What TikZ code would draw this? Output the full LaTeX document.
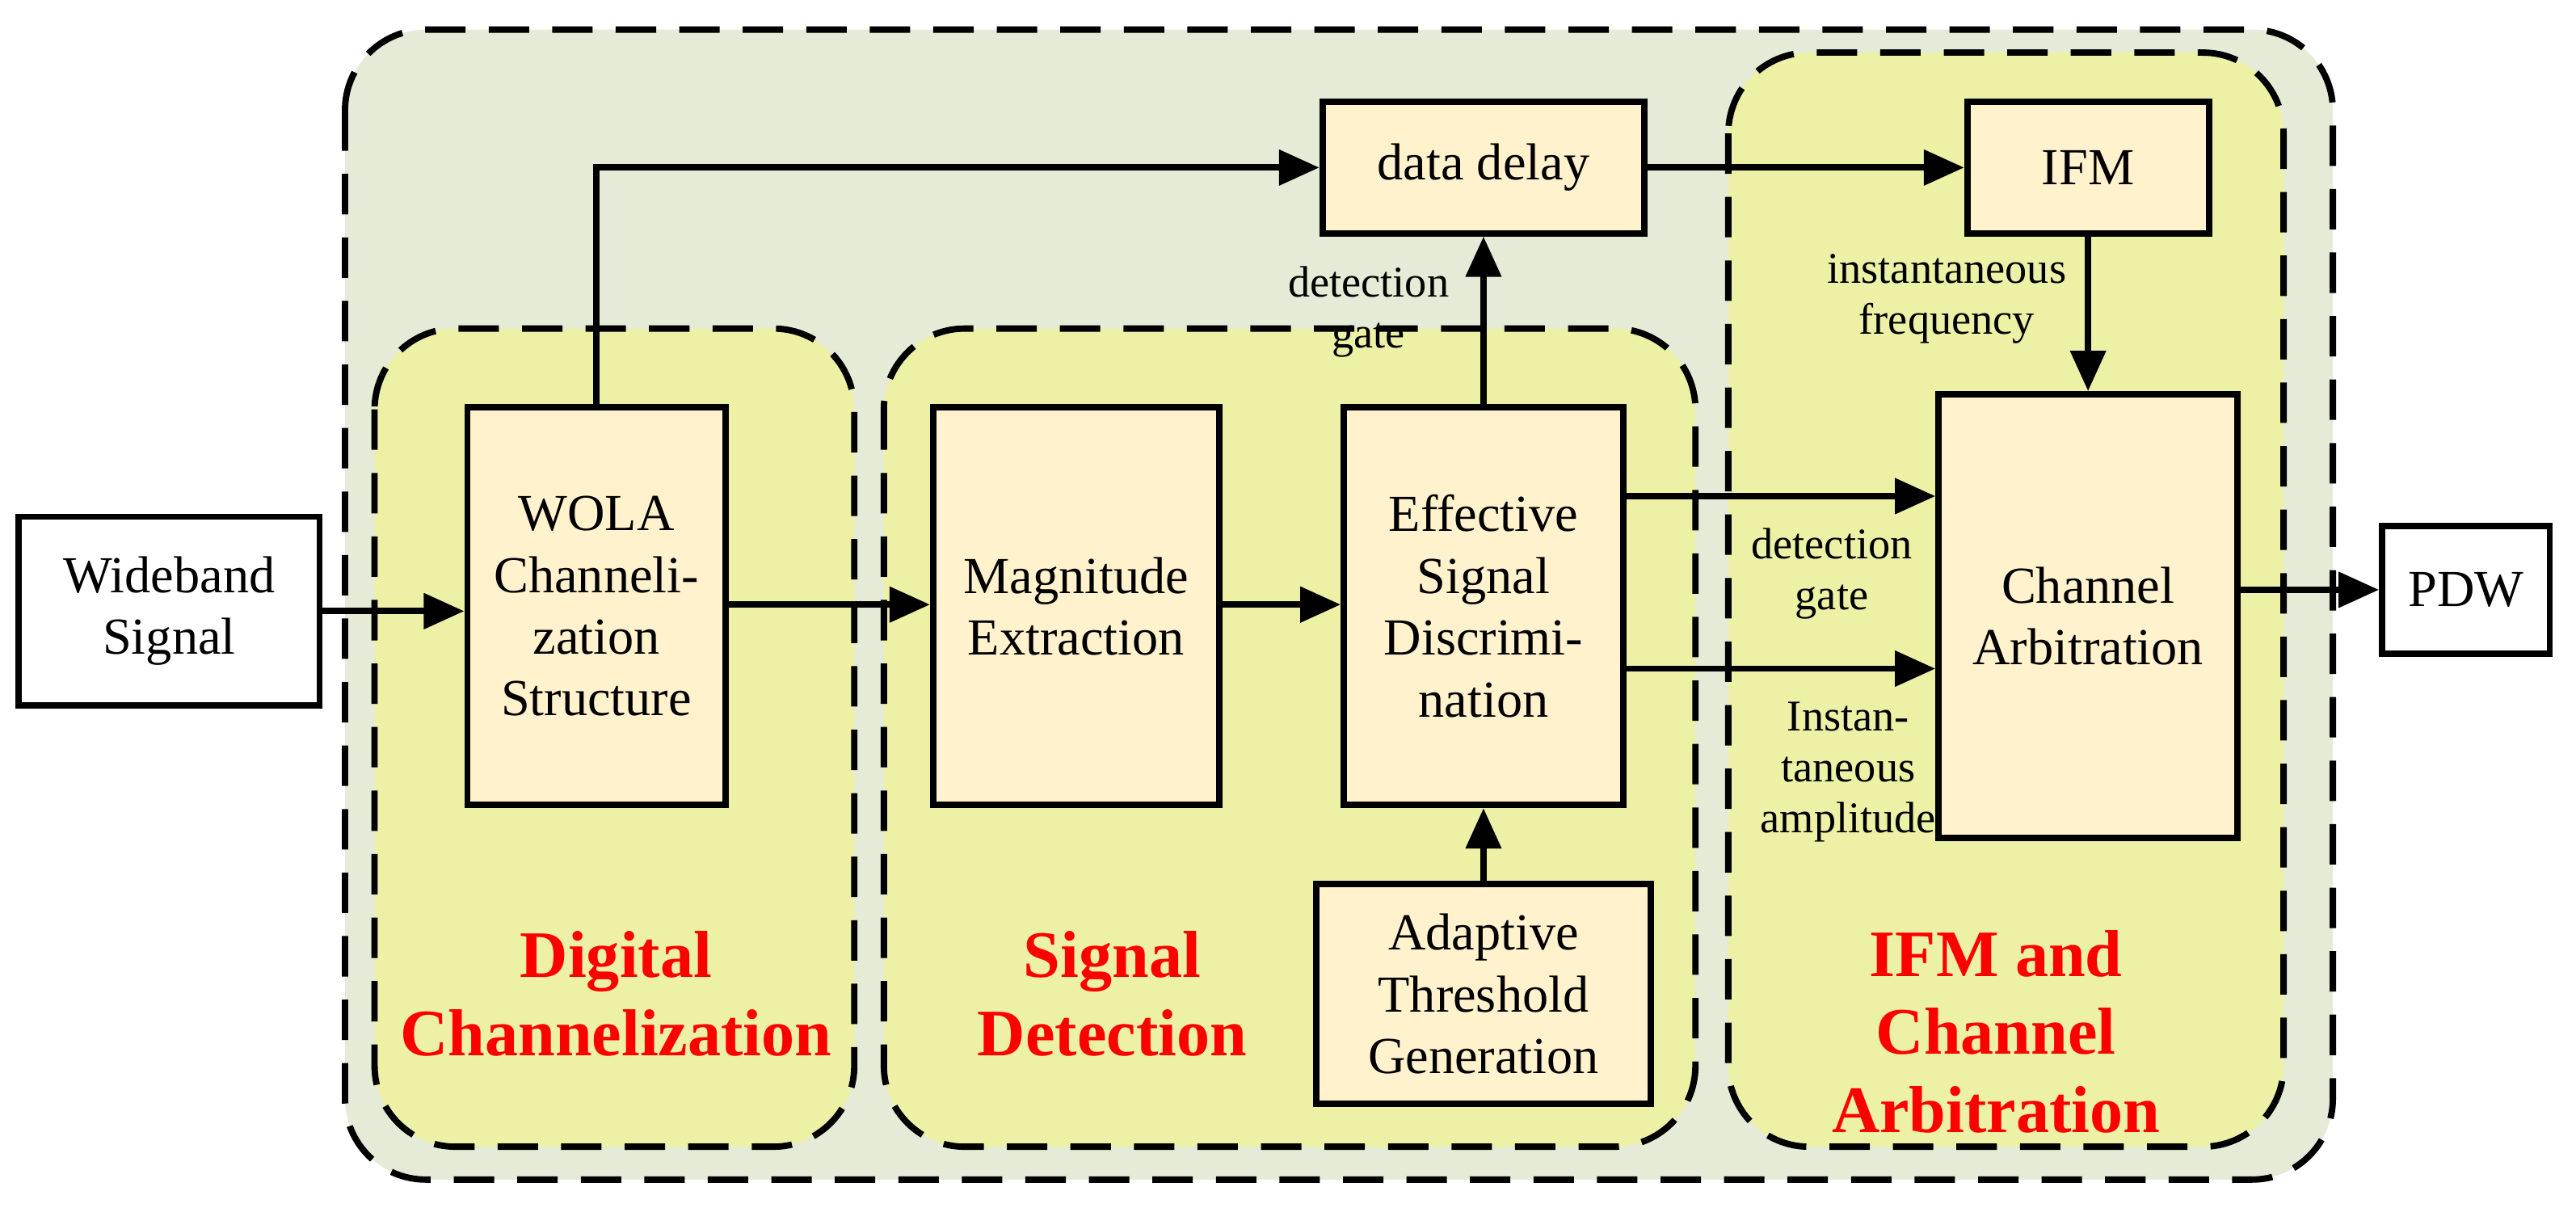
\documentclass[tikz,border=0pt]{standalone}
\usepackage{fontspec}
\setmainfont{Liberation Serif}
\usetikzlibrary{positioning,arrows.meta}
\definecolor{outerfill}{HTML}{E5EBD6}
\definecolor{groupfill}{HTML}{EDF1A6}
\definecolor{blockfill}{HTML}{FFF2CC}
\tikzset{
  blk/.style={draw,line width=1.1pt,fill=blockfill,align=center,inner sep=1pt},
  grp/.style={draw,dash pattern=on 7pt off 4pt,line width=1.1pt,rounded corners=14pt},
  arr/.style={-{Triangle[length=7pt,width=6pt]},line width=1.1pt},
  lbl/.style={align=center,font=\fontsize{7.6}{8.8}\selectfont,inner sep=1pt},
  title/.style={align=center,text=red,font=\fontsize{11.5}{13.5}\selectfont\bfseries}
}
\begin{document}
\begin{tikzpicture}[x=0.1mm,y=-0.1mm,font=\fontsize{9}{10.7}\selectfont]
\useasboundingbox (0,0) rectangle (1568,735);
%Groups
\draw[grp,fill=outerfill] (210,18) rectangle (1420,718);
\draw[grp,fill=groupfill] (228,200) rectangle (520,698);
\draw[grp,fill=groupfill] (538,200) rectangle (1032,698);
\draw[grp,fill=groupfill] (1052,32) rectangle (1390,698);
%Blocks
\node[blk,fill=white,minimum width=18.3mm,minimum height=11.5mm] (wide) at (103,372) {Wideband\\Signal};
\node[blk,minimum width=15.7mm,minimum height=24.2mm] (wola) at (363,369) {WOLA\\Channeli-\\zation\\Structure};
\node[blk,minimum width=17.4mm,minimum height=24.2mm] (mag) at (655,369) {Magnitude\\Extraction};
\node[blk,minimum width=17mm,minimum height=24.2mm] (eff) at (903,369) {Effective\\Signal\\Discrimi-\\nation};
\node[blk,minimum width=20.4mm,minimum height=13.4mm] (adapt) at (903,605) {Adaptive\\Threshold\\Generation};
\node[blk,minimum width=19.6mm,minimum height=8mm] (delay) at (903,102) {data delay};
\node[blk,minimum width=14.7mm,minimum height=8mm] (ifm) at (1271,102) {IFM};
\node[blk,minimum width=18.2mm,minimum height=27mm] (arb) at (1271,375) {Channel\\Arbitration};
\node[blk,fill=white,minimum width=10.2mm,minimum height=7.8mm] (pdw) at (1501,359) {PDW};
%Connectors
\draw[arr] (wide.east|-0,372) -- (wola.west|-0,372);
\draw[arr] (wola.east|-0,368) -- (mag.west|-0,368);
\draw[arr] (mag.east|-0,368) -- (eff.west|-0,368);
\draw[arr] (wola.north) |- (delay.west);
\draw[arr] (eff.north) -- (delay.south);
\draw[arr] (delay.east) -- (ifm.west);
\draw[arr] (ifm.south) -- (arb.north-|ifm.south);
\draw[arr] (eff.east|-0,302) -- (arb.west|-0,302);
\draw[arr] (eff.east|-0,407) -- (arb.west|-0,407);
\draw[arr] (arb.east|-0,359) -- (pdw.west);
\draw[arr] (adapt.north) -- (eff.south);
%Labels
\node[lbl] (gate1) at (833,190) {detection\\gate};
\node[lbl] (freq) at (1185,182) {instantaneous\\frequency};
\node[lbl] (gate2) at (1115,349) {detection\\gate};
\node[lbl] (amp) at (1125,470) {Instan-\\taneous\\amplitude};
\node[title] (t1) at (375,605) {Digital\\Channelization};
\node[title] (t2) at (677,605) {Signal\\Detection};
\node[title] (t3) at (1215,628) {IFM and\\Channel\\Arbitration};
\end{tikzpicture}
\end{document}
